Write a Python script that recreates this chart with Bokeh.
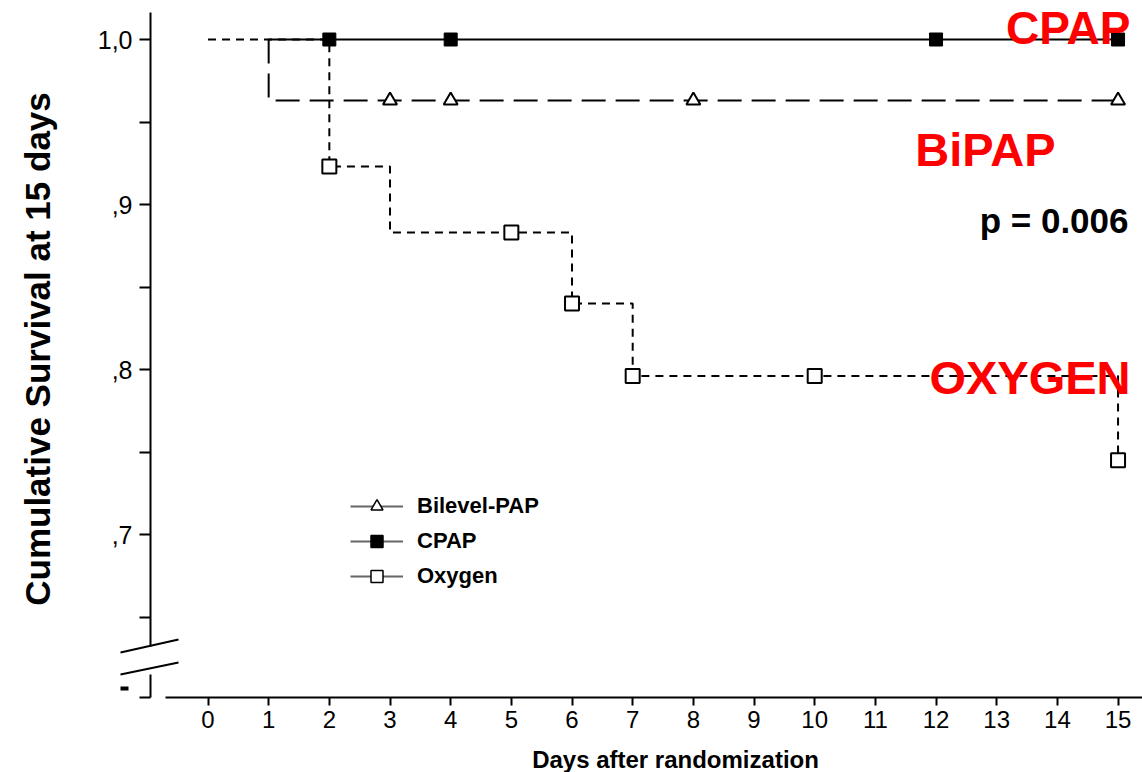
from bokeh.plotting import figure
from bokeh.models import (Range1d, FixedTicker, Label, Legend, LegendItem)
from bokeh.core.properties import value
from bokeh.embed import file_html
from bokeh.resources import INLINE

# ---------------- data ----------------
days_ticks = list(range(0, 16))
surv_ticks = [0.65, 0.70, 0.75, 0.80, 0.85, 0.90, 0.95, 1.00]
surv_tick_labels = ["", ",7", "", ",8", "", ",9", "", "1,0"]

cpap_start = 1
cpap_event_days = []
cpap_event_surv = []
cpap_censor_days = [2, 4, 12, 15]
cpap_censor_surv = [1.0, 1.0, 1.0, 1.0]

bipap_start = 1
bipap_event_days = [1]
bipap_event_surv = [0.963]
bipap_censor_days = [3, 4, 8, 15]
bipap_censor_surv = [0.963, 0.963, 0.963, 0.963]

oxy_start = 0
oxy_event_days = [2, 3, 6, 7, 15]
oxy_event_surv = [0.923, 0.883, 0.840, 0.796, 0.745]
oxy_censor_days = [2, 5, 6, 7, 10, 15]
oxy_censor_surv = [0.923, 0.883, 0.840, 0.796, 0.796, 0.745]

series_names = ["Bilevel-PAP", "CPAP", "Oxygen"]
end_day = 15


def km_path(t0, ev_days, ev_surv, t_end):
    xs, ys = [t0], [1.0]
    s = 1.0
    for t, sn in zip(ev_days, ev_surv):
        xs += [t, t]
        ys += [s, sn]
        s = sn
    xs.append(t_end)
    ys.append(s)
    return xs, ys


# ---------------- geometry (pixel calibration) ----------------
PX0, PXU = 207.5, 60.67        # x pixel of day 0, pixels per day
PY1, PYU = 39.0, 1650.0        # y pixel of survival 1.0, pixels per unit
def dx(px):
    return (px - PX0) / PXU
def dy(py):
    return 1.0 - (py - PY1) / PYU

W, H = 1142, 772
FRAME_L, FRAME_B = 150, 697
V_BOT, V_TOP = dy(FRAME_B), dy(0)

p = figure(width=W, height=H, output_backend="svg", toolbar_location=None,
           x_range=Range1d(dx(FRAME_L), dx(W)), y_range=Range1d(V_BOT, V_TOP),
           min_border_left=FRAME_L, min_border_right=0, min_border_top=0,
           min_border_bottom=H - FRAME_B)
p.outline_line_color = None
p.grid.grid_line_color = None
p.background_fill_color = "white"
p.border_fill_color = "white"

# ---------------- axes ----------------
FONT = "Liberation Sans"
xa = p.xaxis[0]
xa.ticker = FixedTicker(ticks=days_ticks)
xa.bounds = (dx(165), dx(W))
xa.axis_line_width = 2
xa.major_tick_line_width = 2
xa.major_tick_out = 8
xa.major_tick_in = 0
xa.minor_tick_line_color = None
xa.major_label_text_font = FONT
xa.major_label_text_font_size = "24px"
xa.major_label_text_color = "black"
xa.major_label_standoff = 5
xa.axis_label = None

ya = p.yaxis[0]
ya.ticker = FixedTicker(ticks=[V_BOT] + surv_ticks)
ya.major_label_overrides = {**{V_BOT: ""}, **dict(zip(surv_ticks, surv_tick_labels))}
ya.bounds = (V_BOT, dy(12))
ya.axis_line_width = 2
ya.major_tick_line_width = 2
ya.major_tick_out = 11
ya.major_tick_in = 0
ya.minor_tick_line_color = None
ya.major_label_text_font = FONT
ya.major_label_text_font_size = "25px"
ya.major_label_text_color = "black"
ya.major_label_standoff = 7
ya.axis_label = "Cumulative Survival at 15 days"
ya.axis_label_text_font = FONT
ya.axis_label_text_font_style = "bold"
ya.axis_label_text_font_size = "35px"
ya.axis_label_text_color = "black"
ya.axis_label_standoff = 38

# x axis title (below the tick labels, centred like the original)
p.text(x=[dx(675)], y=[dy(759)], text=["Days after randomization"],
       text_align="center", text_baseline="middle",
       text_font=value(FONT), text_font_style="bold",
       text_font_size="24px", text_color="black", level="overlay")

# axis break: white gap + two slashes + stray mark of the clipped label
p.quad(left=[dx(143)], right=[dx(157)], top=[dy(646)], bottom=[dy(674)],
       fill_color="white", line_color=None, level="overlay")
p.line([dx(120), dx(178)], [dy(652), dy(639)], line_color="black",
       line_width=2, level="overlay")
p.line([dx(120), dx(178)], [dy(674), dy(662)], line_color="black",
       line_width=2, level="overlay")
p.line([dx(120), dx(128)], [dy(688), dy(688)], line_color="black",
       line_width=4, level="overlay")

# ---------------- curves ----------------
cx, cy = km_path(cpap_start, cpap_event_days, cpap_event_surv, end_day)
bx, by = km_path(bipap_start, bipap_event_days, bipap_event_surv, end_day)
ox, oy = km_path(oxy_start, oxy_event_days, oxy_event_surv, end_day)

p.line(ox, oy, line_color="black", line_width=2, line_dash="8 6")
p.line(bx, by, line_color="black", line_width=2, line_dash="24 10")
p.line(cx, cy, line_color="black", line_width=2)

p.scatter(oxy_censor_days, oxy_censor_surv, marker="square", size=14,
          fill_color="white", line_color="black", line_width=2)
p.scatter(bipap_censor_days, bipap_censor_surv, marker="triangle", size=14,
          fill_color="white", line_color="black", line_width=2)
p.scatter(cpap_censor_days, cpap_censor_surv, marker="square", size=13,
          fill_color="black", line_color="black", line_width=1)

# ---------------- legend (gray solid line + marker) ----------------
nan = float("nan")
leg_items = []
for name, mk, fill in zip(series_names, ["triangle", "square", "square"],
                          ["white", "black", "white"]):
    lr = p.line([nan, nan], [nan, nan], line_color="#666666", line_width=2)
    sr = p.scatter([nan], [nan], marker=mk, size=16, fill_color=fill,
                   line_color="black", line_width=1.5)
    leg_items.append(LegendItem(label=name, renderers=[lr, sr]))

legend = Legend(items=leg_items, location=(200, 106), orientation="vertical",
                glyph_width=53, glyph_height=30, label_height=30,
                label_standoff=14, spacing=5, padding=0, margin=0,
                border_line_color=None, background_fill_alpha=0,
                label_text_font=FONT, label_text_font_style="bold",
                label_text_font_size="22px", label_text_color="black")
p.add_layout(legend, "center")

# ---------------- text annotations ----------------
def add_label(txt, px_right, py_mid, size, color):
    p.add_layout(Label(x=dx(px_right), y=dy(py_mid), text=txt,
                       text_align="right", text_baseline="middle",
                       text_font=FONT, text_font_style="bold",
                       text_font_size=size, text_color=color))

add_label("CPAP", 1130, 27.5, "46px", "#FF0000")
add_label("BiPAP", 1055, 149, "47px", "#FF0000")
add_label("p = 0.006", 1128, 219.5, "35px", "black")
add_label("OXYGEN", 1130, 376.5, "47px", "#FF0000")

open("out.html", "w").write(file_html(p, INLINE))
